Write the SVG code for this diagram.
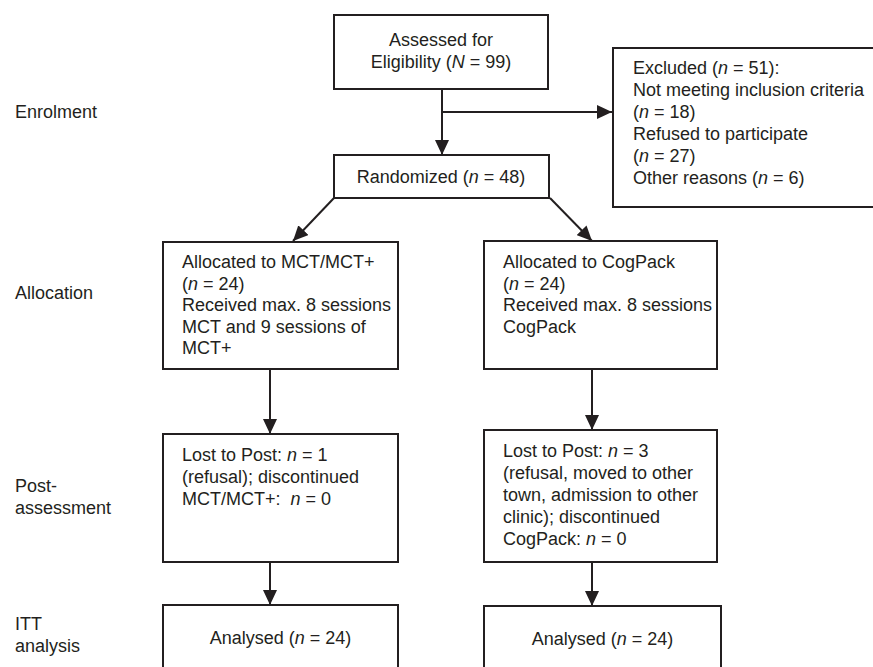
<svg xmlns="http://www.w3.org/2000/svg" width="873" height="667" viewBox="0 0 873 667">
  <defs>
    <style>
      text { font-family: "Liberation Sans", Arial, sans-serif; font-size: 18px; fill: #231f20; }
      .box { fill: #ffffff; stroke: #231f20; stroke-width: 2; }
      .conn { fill: none; stroke: #231f20; stroke-width: 2; }
      .c { text-anchor: middle; }
      .i { font-style: italic; }
    </style>
    <marker id="arr" markerUnits="userSpaceOnUse" markerWidth="16" markerHeight="14" refX="15" refY="7" orient="auto">
      <path d="M0,0 L15,7 L0,14 Z" fill="#231f20"/>
    </marker>
  </defs>
  <rect width="873" height="667" fill="#ffffff"/>

  <g id="labels">
    <text x="15" y="118">Enrolment</text>
    <text x="15" y="299">Allocation</text>
    <text x="15" y="492">Post-</text>
    <text x="15" y="514">assessment</text>
    <text x="15" y="630">ITT</text>
    <text x="15" y="652">analysis</text>
  </g>

  <g id="connectors">
    <line class="conn" x1="442" y1="89" x2="442" y2="155" marker-end="url(#arr)"/>
    <line class="conn" x1="442" y1="112" x2="612" y2="112" marker-end="url(#arr)"/>
    <line class="conn" x1="334" y1="198" x2="293" y2="241" marker-end="url(#arr)"/>
    <line class="conn" x1="550" y1="198" x2="592" y2="241" marker-end="url(#arr)"/>
    <line class="conn" x1="270" y1="369" x2="270" y2="434" marker-end="url(#arr)"/>
    <line class="conn" x1="592" y1="369" x2="592" y2="430" marker-end="url(#arr)"/>
    <line class="conn" x1="270" y1="562" x2="270" y2="605" marker-end="url(#arr)"/>
    <line class="conn" x1="592" y1="562" x2="592" y2="606" marker-end="url(#arr)"/>
  </g>

  <g id="assessed">
    <rect class="box" x="334" y="15" width="214" height="74"/>
    <text class="c" x="441" y="46">Assessed for</text>
    <text class="c" x="441" y="68">Eligibility (<tspan class="i">N</tspan> = 99)</text>
  </g>

  <g id="excluded">
    <rect class="box" x="613" y="48" width="280" height="159"/>
    <text x="633" y="74">Excluded (<tspan class="i">n</tspan> = 51):</text>
    <text x="633" y="96">Not meeting inclusion criteria</text>
    <text x="633" y="118">(<tspan class="i">n</tspan> = 18)</text>
    <text x="633" y="140">Refused to participate</text>
    <text x="633" y="162">(<tspan class="i">n</tspan> = 27)</text>
    <text x="633" y="184">Other reasons (<tspan class="i">n</tspan> = 6)</text>
  </g>

  <g id="randomized">
    <rect class="box" x="334" y="155" width="215" height="43"/>
    <text class="c" x="441" y="183">Randomized (<tspan class="i">n</tspan> = 48)</text>
  </g>

  <g id="alloc-mct">
    <rect class="box" x="163" y="242" width="235" height="127"/>
    <text x="182" y="268">Allocated to MCT/MCT+</text>
    <text x="182" y="289.5">(<tspan class="i">n</tspan> = 24)</text>
    <text x="182" y="311">Received max. 8 sessions</text>
    <text x="182" y="332.5">MCT and 9 sessions of</text>
    <text x="182" y="354">MCT+</text>
  </g>

  <g id="alloc-cogpack">
    <rect class="box" x="484" y="241" width="233" height="128"/>
    <text x="503" y="268">Allocated to CogPack</text>
    <text x="503" y="289.5">(<tspan class="i">n</tspan> = 24)</text>
    <text x="503" y="311">Received max. 8 sessions</text>
    <text x="503" y="332.5">CogPack</text>
  </g>

  <g id="post-mct">
    <rect class="box" x="163" y="434" width="235" height="128"/>
    <text x="182" y="461">Lost to Post: <tspan class="i">n</tspan> = 1</text>
    <text x="182" y="483">(refusal); discontinued</text>
    <text x="182" y="505">MCT/MCT+:&#160; <tspan class="i">n</tspan> = 0</text>
  </g>

  <g id="post-cogpack">
    <rect class="box" x="484" y="430" width="233" height="132"/>
    <text x="503" y="457">Lost to Post: <tspan class="i">n</tspan> = 3</text>
    <text x="503" y="479">(refusal, moved to other</text>
    <text x="503" y="501">town, admission to other</text>
    <text x="503" y="523">clinic); discontinued</text>
    <text x="503" y="545">CogPack: <tspan class="i">n</tspan> = 0</text>
  </g>

  <g id="analysed-mct">
    <rect class="box" x="163" y="605" width="235" height="100"/>
    <text class="c" x="280.5" y="644">Analysed (<tspan class="i">n</tspan> = 24)</text>
  </g>

  <g id="analysed-cogpack">
    <rect class="box" x="484" y="606" width="237" height="100"/>
    <text class="c" x="602.5" y="645">Analysed (<tspan class="i">n</tspan> = 24)</text>
  </g>
</svg>
